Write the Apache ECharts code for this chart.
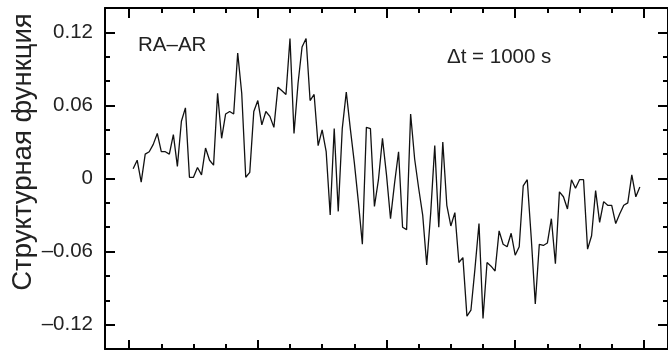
<!DOCTYPE html>
<html>
<head>
<meta charset="utf-8">
<script src="https://cdn.jsdelivr.net/npm/echarts@6/dist/echarts.min.js"></script>
<style>
  html, body { margin: 0; padding: 0; background: #fff; }
  #chart { width: 668px; height: 350px; }
</style>
</head>
<body>
<div id="chart"></div>
<script>
// Structure function RA–AR, sampled every Δt = 1000 s
const structureValues = [
  0.008, 0.015, -0.003, 0.020, 0.022, 0.028, 0.037, 0.022, 0.022, 0.020,
  0.036, 0.010, 0.047, 0.058, 0.001, 0.001, 0.009, 0.003, 0.025, 0.015,
  0.011, 0.070, 0.033, 0.053, 0.055, 0.053, 0.103, 0.070, 0.001, 0.005,
  0.055, 0.064, 0.044, 0.055, 0.051, 0.042, 0.075, 0.072, 0.069, 0.115,
  0.037, 0.078, 0.108, 0.115, 0.064, 0.069, 0.027, 0.040, 0.022, -0.030,
  0.041, -0.027, 0.041, 0.071, 0.041, 0.013, -0.019, -0.054, 0.042, 0.041,
  -0.023, -0.001, 0.033, 0.003, -0.033, -0.004, 0.022, -0.040, -0.042, 0.053,
  0.016, -0.008, -0.030, -0.071, -0.028, 0.027, -0.040, 0.030, -0.022, -0.039,
  -0.028, -0.069, -0.065, -0.113, -0.108, -0.074, -0.037, -0.115, -0.069, -0.072,
  -0.076, -0.043, -0.054, -0.056, -0.045, -0.063, -0.056, -0.006, -0.001, -0.049,
  -0.103, -0.054, -0.055, -0.053, -0.033, -0.070, -0.011, -0.015, -0.025, -0.001,
  -0.008, -0.001, -0.001, -0.058, -0.047, -0.010, -0.036, -0.019, -0.022, -0.022,
  -0.037, -0.029, -0.022, -0.020, 0.003, -0.015, -0.007
];

// Axis tick values
const xMajorTicks = [0, 32, 64, 96, 128];
const xMinorTicks = [8, 16, 24, 40, 48, 56, 72, 80, 88, 104, 112, 120];
const yMajorTicks = [-0.12, -0.06, 0, 0.06, 0.12];
const yMinorTicks = [-0.10, -0.08, -0.04, -0.02, 0.02, 0.04, 0.08, 0.10];

const pairName = 'RA–AR';
const stepLabel = 'Δt = 1000 s';
const yTitle = 'Структурная функция';

const X_MIN = -6, X_MAX = 134;
const Y_MIN = -0.14, Y_MAX = 0.14;

const seriesData = structureValues.map((v, i) => [i + 1, v]);

const textColor = '#222';
const fontFamily = 'Liberation Sans, Arial, Helvetica, sans-serif';

function xAxisDef(position, ticks, len, showLine) {
  return {
    type: 'value', position: position, min: X_MIN, max: X_MAX,
    axisLine: { show: showLine, onZero: false, lineStyle: { color: '#000', width: 2 } },
    axisTick: { show: true, inside: true, length: len, customValues: ticks,
                lineStyle: { color: '#000', width: 2 } },
    axisLabel: { show: false },
    splitLine: { show: false }
  };
}

function yAxisDef(position, ticks, len, showLine, labels) {
  return {
    type: 'value', position: position, min: Y_MIN, max: Y_MAX,
    axisLine: { show: showLine, onZero: false, lineStyle: { color: '#000', width: 2 } },
    axisTick: { show: true, inside: true, length: len, customValues: ticks,
                lineStyle: { color: '#000', width: 2 } },
    axisLabel: labels ? {
      show: true, customValues: yMajorTicks, margin: 12,
      color: textColor, fontSize: 20.5, fontFamily: fontFamily,
      formatter: function (v) {
        if (Math.abs(v) < 1e-9) return '0';
        return v.toFixed(2).replace('-', '–');
      }
    } : { show: false },
    splitLine: { show: false }
  };
}

const chart = echarts.init(document.getElementById('chart'), null, { renderer: 'canvas' });

chart.setOption({
  animation: false,
  backgroundColor: '#fff',
  grid: { left: 105, top: 8, width: 567, height: 341, containLabel: false },
  xAxis: [
    xAxisDef('bottom', xMajorTicks, 9, true),
    xAxisDef('bottom', xMinorTicks, 5, false),
    xAxisDef('top', xMajorTicks, 10, true),
    xAxisDef('top', xMinorTicks, 5, false)
  ],
  yAxis: [
    yAxisDef('left', yMajorTicks, 10, true, true),
    yAxisDef('left', yMinorTicks, 5, false, false),
    yAxisDef('right', yMajorTicks, 10, true, false),
    yAxisDef('right', yMinorTicks, 5, false, false)
  ],
  series: [{
    type: 'line',
    xAxisIndex: 0,
    yAxisIndex: 0,
    data: seriesData,
    showSymbol: false,
    symbol: 'none',
    lineStyle: { color: '#111', width: 1.3 },
    clip: true
  }],
  graphic: [
    {
      type: 'text', left: 138, top: 35,
      style: { text: pairName, fill: textColor, fontSize: 20.5, fontFamily: fontFamily }
    },
    {
      type: 'text', left: 447, top: 47,
      style: { text: stepLabel, fill: textColor, fontSize: 20.5, fontFamily: fontFamily }
    },
    {
      type: 'text', x: 23, y: 152, rotation: Math.PI / 2,
      style: { text: yTitle, fill: textColor, fontSize: 27.5, fontFamily: fontFamily,
               align: 'center', verticalAlign: 'middle' }
    }
  ]
});
</script>
</body>
</html>
